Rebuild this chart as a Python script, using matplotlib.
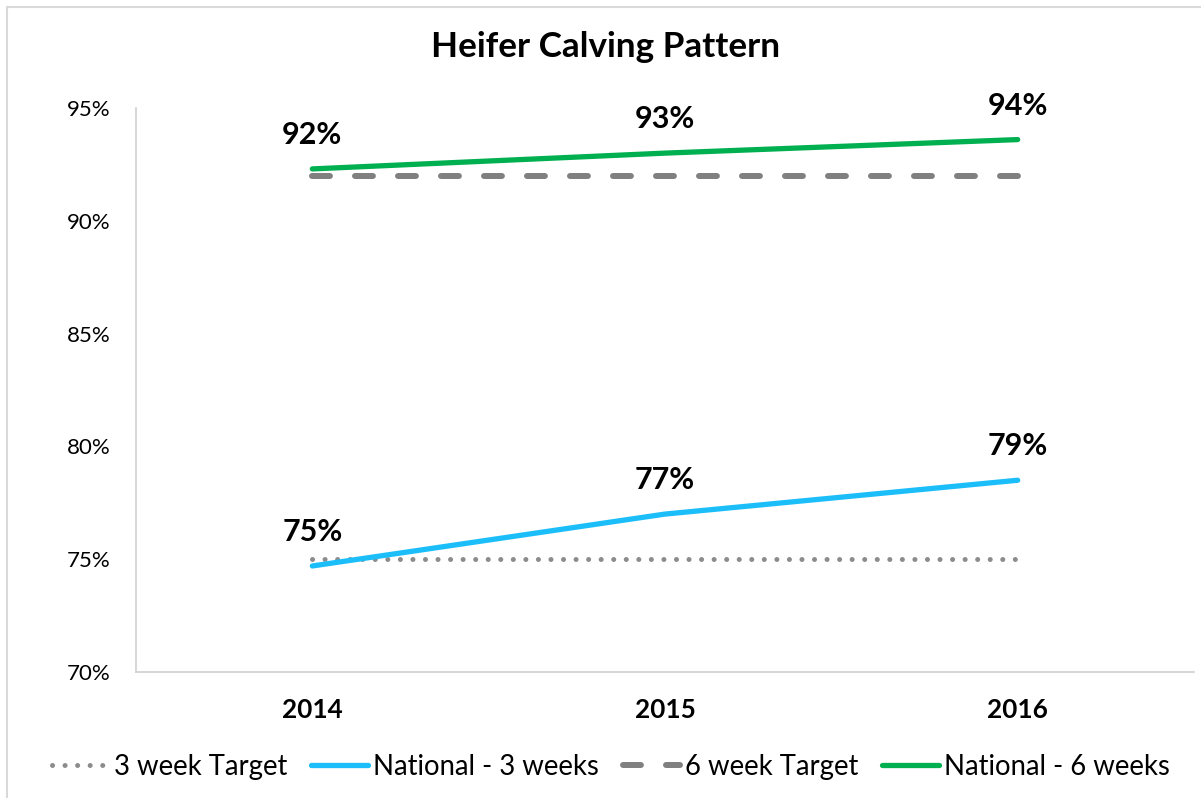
import matplotlib
matplotlib.use("Agg")
import matplotlib.pyplot as plt
from matplotlib.patches import Rectangle

years = ["2014", "2015", "2016"]
target_3wk = [75.0, 75.0, 75.0]
national_3wk = [74.7, 77.0, 78.5]
target_6wk = [92.0, 92.0, 92.0]
national_6wk = [92.3, 93.0, 93.6]
labels_3wk = ["75%", "77%", "79%"]
labels_6wk = ["92%", "93%", "94%"]
yticks = [70, 75, 80, 85, 90, 95]

plt.rcParams['font.family'] = ['Lato', 'DejaVu Sans']

fig = plt.figure(figsize=(12.01, 7.98), dpi=100)
fig.patches.append(Rectangle((7/1201, -0.05), 1.2, 1 - 7/798 + 0.05, transform=fig.transFigure,
                             fill=False, edgecolor='#D9D9D9', linewidth=1.5, zorder=0))
ax = fig.add_axes([136/1201, 1 - 672/798, (1194 - 136)/1201, (672 - 108)/798])

x = list(range(len(years)))
l1, = ax.plot(x, target_3wk, color='#8C8C8C', lw=3.6, linestyle=(0, (0.01, 2.5)),
              dash_capstyle='round', label='3 week Target')
l2, = ax.plot(x, national_3wk, color='#1CBEFA', lw=3.8, solid_capstyle='round',
              label='National - 3 weeks')
l3, = ax.plot(x, target_6wk, color='#808080', lw=4.3, linestyle=(0, (3.0, 4.2)),
              dash_capstyle='round', label='6 week Target')
l4, = ax.plot(x, national_6wk, color='#00B050', lw=3.8, solid_capstyle='round',
              label='National - 6 weeks')

for xi, v, t in zip(x, national_3wk, labels_3wk):
    ax.annotate(t, (xi, v), xytext=(0, 24.5), textcoords='offset points', ha='center',
                va='center', fontsize=22, fontweight='bold')
for xi, v, t in zip(x, national_6wk, labels_6wk):
    ax.annotate(t, (xi, v), xytext=(0, 24.5), textcoords='offset points', ha='center',
                va='center', fontsize=22, fontweight='bold')

ax.set_xlim(-0.5, 2.5)
ax.set_ylim(70, 95)
ax.set_yticks(yticks)
ax.set_yticklabels([f"{v}%" for v in yticks], fontsize=16)
ax.set_xticks(x)
ax.set_xticklabels(years, fontsize=18.8, fontweight='bold')
ax.tick_params(axis='y', length=0, pad=18)
ax.tick_params(axis='x', length=0, pad=19)
for s in ['top', 'right']:
    ax.spines[s].set_visible(False)
for s in ['left', 'bottom']:
    ax.spines[s].set_color('#D0D0D0')
    ax.spines[s].set_linewidth(1.2)

fig.text(606/1201, 1 - 47/798, "Heifer Calving Pattern", ha='center', va='center',
         fontsize=25.3, fontweight='bold')

fig.legend(handles=[l1, l2, l3, l4], loc='center', bbox_to_anchor=(611/1201, 1 - 767/798),
           ncol=4, frameon=False, fontsize=19.8, handlelength=2.07, handletextpad=0.18,
           columnspacing=0.87, borderpad=0, borderaxespad=0)

fig.savefig("out.png", dpi=100)
